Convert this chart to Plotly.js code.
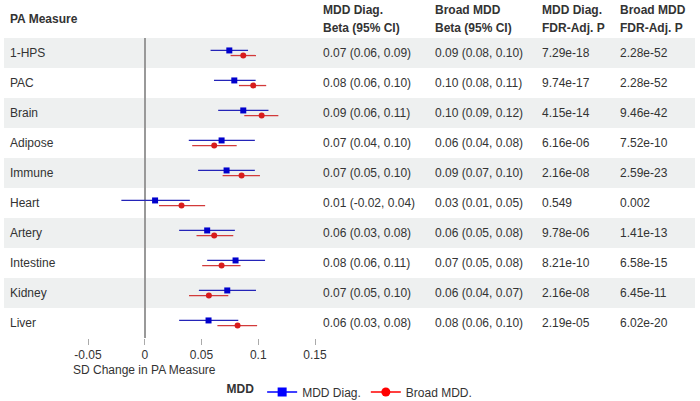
<!DOCTYPE html>
<html>
<head>
<meta charset="utf-8">
<script src="https://cdn.plot.ly/plotly-3.0.1.min.js"></script>
<style>html,body{margin:0;padding:0;background:#fff;}#chart{width:700px;height:401px;}</style>
</head>
<body>
<div id="chart"></div>
<script>
// ---- data ----
const measures = ['1-HPS','PAC','Brain','Adipose','Immune','Heart','Artery','Intestine','Kidney','Liver'];
const diagBeta = [0.0745,0.0789,0.0868,0.0677,0.0721,0.0091,0.0550,0.0800,0.0727,0.0562];
const diagLo   = [0.0580,0.0610,0.0647,0.0388,0.0470,-0.0206,0.0303,0.0550,0.0477,0.0303];
const diagHi   = [0.0910,0.0977,0.1090,0.0970,0.0970,0.0397,0.0794,0.1060,0.0980,0.0824];
const broadBeta = [0.0868,0.0956,0.1030,0.0612,0.0853,0.0324,0.0612,0.0677,0.0565,0.0818];
const broadLo   = [0.0756,0.0830,0.0877,0.0418,0.0686,0.0126,0.0456,0.0506,0.0390,0.0640];
const broadHi   = [0.0980,0.1070,0.1177,0.0810,0.1015,0.0532,0.0780,0.0844,0.0736,0.0990];
const diagCI  = ['0.07 (0.06, 0.09)','0.08 (0.06, 0.10)','0.09 (0.06, 0.11)','0.07 (0.04, 0.10)','0.07 (0.05, 0.10)','0.01 (-0.02, 0.04)','0.06 (0.03, 0.08)','0.08 (0.06, 0.11)','0.07 (0.05, 0.10)','0.06 (0.03, 0.08)'];
const broadCI = ['0.09 (0.08, 0.10)','0.10 (0.08, 0.11)','0.10 (0.09, 0.12)','0.06 (0.04, 0.08)','0.09 (0.07, 0.10)','0.03 (0.01, 0.05)','0.06 (0.05, 0.08)','0.07 (0.05, 0.08)','0.06 (0.04, 0.07)','0.08 (0.06, 0.10)'];
const diagP  = ['7.29e-18','9.74e-17','4.15e-14','6.16e-06','2.16e-08','0.549','9.78e-06','8.21e-10','2.16e-08','2.19e-05'];
const broadP = ['2.28e-52','2.28e-52','9.46e-42','7.52e-10','2.59e-23','0.002','1.41e-13','6.58e-15','6.45e-11','6.02e-20'];
const xTicks = [-0.05, 0, 0.05, 0.1, 0.15];
const xTickText = ['-0.05','0','0.05','0.1','0.15'];
const headers = [
  ['MDD Diag.','Beta (95% CI)'],
  ['Broad MDD','Beta (95% CI)'],
  ['MDD Diag.','FDR-Adj. P'],
  ['Broad MDD','FDR-Adj. P']
];

// ---- styling ----
const FONT = 'Liberation Sans, Arial, sans-serif';
const TXT = '#333333';
const BLUE = '#0000cc', BLUE_L = '#2424b8';
const RED = '#d81c1c', RED_L = '#d23a3a';
const OFF = 0.085;
const rows = measures.map((m,i)=>i+1);
const colX = [1.0264, 1.5198, 1.9912, 2.3348];
const labelX = -0.352;

const traces = [
  {
    x: diagBeta, y: rows.map(r=>r-OFF), type:'scatter', mode:'markers', showlegend:false,
    marker:{symbol:'square', size:6, color:BLUE},
    error_x:{type:'data', symmetric:false,
      array: diagHi.map((h,i)=>h-diagBeta[i]), arrayminus: diagBeta.map((b,i)=>b-diagLo[i]),
      width:0, thickness:1.3, color:BLUE_L},
    hoverinfo:'skip'
  },
  {
    x: broadBeta, y: rows.map(r=>r+OFF), type:'scatter', mode:'markers', showlegend:false,
    marker:{symbol:'circle', size:6, color:RED},
    error_x:{type:'data', symmetric:false,
      array: broadHi.map((h,i)=>h-broadBeta[i]), arrayminus: broadBeta.map((b,i)=>b-broadLo[i]),
      width:0, thickness:1.3, color:RED_L},
    hoverinfo:'skip'
  },
  {x:[null], y:[null], type:'scatter', mode:'lines+markers', name:'MDD Diag.',
   marker:{symbol:'square', size:9, color:'#0000ff'}, line:{color:'#0000ff', width:1.5}},
  {x:[null], y:[null], type:'scatter', mode:'lines+markers', name:'Broad MDD.',
   marker:{symbol:'circle', size:9, color:'#ff0000'}, line:{color:'#ff0000', width:1.5}}
];

const shapes = [];
rows.forEach((r,i)=>{
  if (i % 2 === 0) {
    shapes.push({type:'rect', xref:'paper', yref:'y', x0:-0.37, x1:2.674, y0:r-0.5, y1:r+0.5,
      fillcolor:'#eef0f0', line:{width:0}, layer:'below'});
  }
});

const annotations = [];
rows.forEach((r,i)=>{
  annotations.push({xref:'paper', yref:'y', x:labelX, y:r, text:measures[i], showarrow:false, xanchor:'left', yanchor:'middle', font:{size:12, color:TXT}});
  [diagCI[i], broadCI[i], diagP[i], broadP[i]].forEach((t,c)=>{
    annotations.push({xref:'paper', yref:'y', x:colX[c], y:r, text:t, showarrow:false, xanchor:'left', yanchor:'middle', font:{size:12, color:TXT}});
  });
});
annotations.push({xref:'paper', yref:'paper', x:labelX, y:1.063, text:'<b>PA Measure</b>', showarrow:false, xanchor:'left', yanchor:'middle', font:{size:12, color:TXT}});
headers.forEach((h,c)=>{
  annotations.push({xref:'paper', yref:'paper', x:colX[c], y:1.0933, text:'<b>'+h[0]+'</b>', showarrow:false, xanchor:'left', yanchor:'middle', font:{size:12, color:TXT}});
  annotations.push({xref:'paper', yref:'paper', x:colX[c], y:1.0333, text:'<b>'+h[1]+'</b>', showarrow:false, xanchor:'left', yanchor:'middle', font:{size:12, color:TXT}});
});
annotations.push({xref:'x', yref:'paper', x:0, y:-0.1067, text:'SD Change in PA Measure', showarrow:false, xanchor:'center', yanchor:'middle', font:{size:12, color:TXT}});

const layout = {
  width:700, height:401,
  margin:{l:88, r:385, t:38, b:63, autoexpand:false},
  paper_bgcolor:'#ffffff', plot_bgcolor:'rgba(0,0,0,0)',
  font:{family:FONT, size:12, color:TXT},
  xaxis:{range:[-0.05,0.15], tickvals:xTicks, ticktext:xTickText, showgrid:false, automargin:false,
    zeroline:true, zerolinecolor:'#999999', zerolinewidth:1.5, showline:false,
    ticks:'outside', ticklen:6, tickwidth:1, tickcolor:'#aaaaaa', tickfont:{size:12, color:TXT}, fixedrange:true},
  yaxis:{range:[10.5,0.5], showticklabels:false, showgrid:false, zeroline:false, showline:false, ticks:'', automargin:false, fixedrange:true},
  shapes:shapes, annotations:annotations,
  showlegend:true,
  legend:{orientation:'h', xref:'container', yref:'container', x:0.5014, xanchor:'center', y:0.0224, yanchor:'middle',
    title:{text:'<b>MDD</b>', side:'left', font:{size:12, color:TXT}},
    font:{size:12, color:TXT}, bgcolor:'rgba(0,0,0,0)', borderwidth:0, itemwidth:30}
};

Plotly.newPlot('chart', traces, layout, {staticPlot:true, displayModeBar:false});
</script>
</body>
</html>
